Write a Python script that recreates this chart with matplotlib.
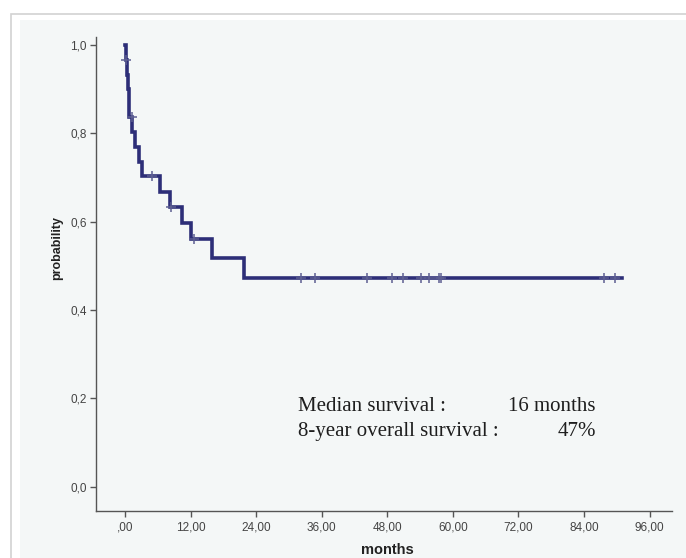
import numpy as np
import matplotlib
matplotlib.use("Agg")
import matplotlib.pyplot as plt
from matplotlib.patches import Rectangle
from matplotlib.ticker import FuncFormatter

# event times (months) and survival after each drop
event_times = [0.1, 0.3, 0.5, 0.65, 0.8, 1.35, 1.85, 2.6, 3.2, 6.4, 8.2, 10.4, 12.0, 15.9, 21.7]
surv_after = [0.967, 0.933, 0.900, 0.868, 0.838, 0.804, 0.770, 0.736, 0.703, 0.668,
              0.634, 0.596, 0.560, 0.517, 0.473]
end_time = 90.9
censor_times = [0.2, 1.2, 5.0, 8.5, 12.6, 32.3, 34.8, 44.3, 48.8, 50.9, 54.2, 55.7,
                57.5, 57.8, 87.7, 89.7]

x_ticks = [0, 12, 24, 36, 48, 60, 72, 84, 96]
y_ticks = [0.0, 0.2, 0.4, 0.6, 0.8, 1.0]

W, H = 686, 558
fig = plt.figure(figsize=(W / 100, H / 100), dpi=100)
fig.patch.set_facecolor("white")

# outer border and panel (run past the right and bottom edges, as in the cropped original)
fig.add_artist(Rectangle((11 / W, -0.1), 1, 1.1 - 14 / H, transform=fig.transFigure,
                         facecolor="white", edgecolor="#d2d2d2", lw=1.2, zorder=-10))
fig.add_artist(Rectangle((20 / W, -0.1), 1, 1.1 - 20 / H, transform=fig.transFigure,
                         facecolor="#f4f7f7", edgecolor="none", zorder=-9))

ax = fig.add_axes([96 / W, 1 - 511 / H, (672 - 96) / W, (511 - 37) / H])
ax.set_facecolor("none")

t = np.array([0] + event_times + [end_time])
s = np.array([1.0] + surv_after + [surv_after[-1]])
ax.step(t, s, where="post", color="#2d2e78", lw=2.6, solid_joinstyle="miter", zorder=3)

# censor marks placed on the curve
ct = np.array(censor_times)
idx = np.searchsorted(t, ct, side="right") - 1
ax.plot(ct, s[idx], ls="none", marker="+", ms=7.5, mew=1.1, color="#5d5f92", zorder=4)

ax.set_xlim(-5.3, 100.1)
ax.set_ylim(-0.055, 1.018)
ax.set_xticks(x_ticks)
ax.set_yticks(y_ticks)


def xfmt(v, pos):
    txt = ("%.2f" % v).replace(".", ",")
    return txt.lstrip("0") if v == 0 else txt


ax.xaxis.set_major_formatter(FuncFormatter(xfmt))
ax.yaxis.set_major_formatter(FuncFormatter(lambda v, p: ("%.1f" % v).replace(".", ",")))

for sp in ["top", "right"]:
    ax.spines[sp].set_visible(False)
for sp in ["left", "bottom"]:
    ax.spines[sp].set_color("#555555")
    ax.spines[sp].set_linewidth(1.0)

ax.tick_params(direction="out", length=4.5, width=1.0, color="#555555",
               labelsize=8.5, labelcolor="#444444")
ax.tick_params(axis="x", pad=3)
ax.tick_params(axis="y", pad=2)
for lab in ax.get_xticklabels() + ax.get_yticklabels():
    lab.set_family("Liberation Sans")

fig.text(387 / W, 1 - 543 / H, "months", ha="center", va="top",
         family="Liberation Sans", weight="bold", size=10.5, color="#222222")
fig.text(56.7 / W, 1 - 247.5 / H, "probability", ha="center", va="center", rotation=90,
         family="Liberation Sans", weight="bold", size=9, color="#222222")

serif = dict(family="Liberation Serif", size=15, color="#1e1e1e", va="baseline")
fig.text(298 / W, 1 - 411 / H, "Median survival :", **serif)
fig.text(508 / W, 1 - 411 / H, "16 months", **serif)
fig.text(298 / W, 1 - 436 / H, "8-year overall survival :", **serif)
fig.text(558 / W, 1 - 436 / H, "47%", **serif)

fig.savefig("out.png", dpi=100)
